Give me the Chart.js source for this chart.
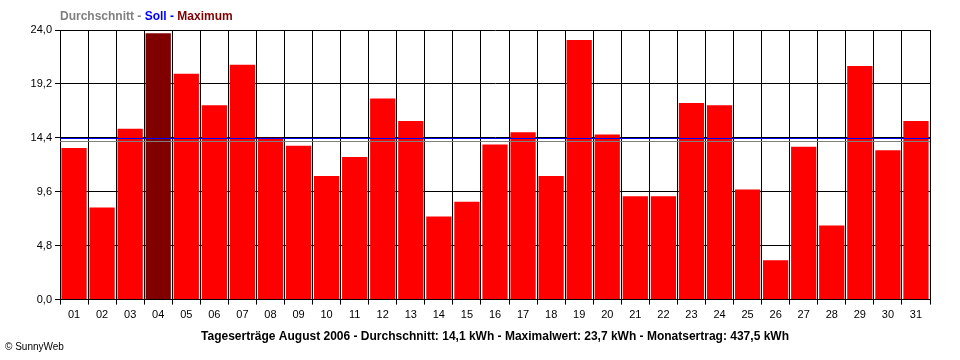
<!DOCTYPE html>
<html>
<head>
<meta charset="utf-8">
<script src="https://cdn.jsdelivr.net/npm/chart.js@4/dist/chart.umd.min.js"></script>
<style>
  html, body { margin: 0; padding: 0; background: #fff; }
  #chart { display: block; }
</style>
</head>
<body>
<canvas id="chart" width="960" height="360"></canvas>
<script>
// Tageserträge August 2006 (kWh)
const days = ['01','02','03','04','05','06','07','08','09','10','11','12','13','14','15','16',
  '17','18','19','20','21','22','23','24','25','26','27','28','29','30','31'];
const yields = [13.5, 8.2, 15.2, 23.7, 20.1, 17.3, 20.9, 14.4, 13.7, 11.0, 12.7, 17.9, 15.9, 7.4, 8.7, 13.8,
  14.9, 11.0, 23.1, 14.7, 9.2, 9.2, 17.5, 17.3, 9.8, 3.5, 13.6, 6.6, 20.8, 13.3, 15.9];
const yTicks = [0, 4.8, 9.6, 14.4, 19.2, 24.0];
const average = 14.1;
const target = 14.4; // Soll

const maxYield = Math.max(...yields);
const font = "'Liberation Sans', Arial, sans-serif";

const extraText = {
  id: 'extraText',
  afterDatasetsDraw(chart) {
    const { ctx, chartArea, scales } = chart;
    // Durchschnitt und Soll
    ctx.save();
    ctx.lineWidth = 1;
    [[target, '#0000ff'], [average, '#808080']].forEach(([v, c]) => {
      const y = Math.round(scales.y.getPixelForValue(v)) + 0.5;
      ctx.strokeStyle = c;
      ctx.beginPath();
      ctx.moveTo(chartArea.left, y);
      ctx.lineTo(chartArea.right, y);
      ctx.stroke();
    });
    ctx.restore();
  },
  afterDraw(chart) {
    const { ctx } = chart;
    ctx.save();
    ctx.font = 'bold 12px ' + font;
    ctx.textBaseline = 'middle';
    let x = 60;
    [['Durchschnitt - ', '#808080'], ['Soll - ', '#0000ff'], ['Maximum', '#800000']].forEach(([t, c]) => {
      ctx.fillStyle = c;
      ctx.fillText(t, x, 17);
      x += ctx.measureText(t).width;
    });
    ctx.font = '10px ' + font;
    ctx.fillStyle = '#000';
    ctx.fillText('© SunnyWeb', 5, 347);
    ctx.restore();
  }
};

const barColors = yields.map(v => v === maxYield ? '#800000' : '#ff0000');

new Chart(document.getElementById('chart'), {
  type: 'bar',
  data: {
    labels: days,
    datasets: [{
      data: yields,
      backgroundColor: barColors,
      borderColor: barColors,
      borderWidth: 0,
      barPercentage: 0.9,
      categoryPercentage: 1.0
    }]
  },
  options: {
    responsive: false,
    animation: false,
    layout: { padding: { left: 0, right: 30, top: 30, bottom: 0 } },
    plugins: {
      legend: { display: false },
      tooltip: { enabled: false },
      title: {
        display: true,
        position: 'bottom',
        fullSize: false,
        text: 'Tageserträge August 2006 - Durchschnitt: 14,1 kWh - Maximalwert: 23,7 kWh - Monatsertrag: 437,5 kWh',
        color: '#000',
        font: { family: font, size: 12, weight: 'bold', lineHeight: 1.2 },
        padding: { top: 0, bottom: 16 }
      }
    },
    scales: {
      x: {
        grid: { color: '#000', lineWidth: 1, tickLength: 5, offset: true },
        border: { color: '#000', width: 1 },
        ticks: { color: '#000', font: { family: font, size: 11 }, padding: 4, maxRotation: 0, autoSkip: false },
        afterFit(scale) { scale.height = 30; }
      },
      y: {
        min: 0,
        max: 24,
        afterBuildTicks(scale) { scale.ticks = yTicks.map(v => ({ value: v })); },
        grid: { color: '#000', lineWidth: 1, tickLength: 5 },
        border: { color: '#000', width: 1 },
        ticks: {
          color: '#000',
          font: { family: font, size: 11 },
          padding: 3,
          callback: v => v.toFixed(1).replace('.', ',')
        },
        afterFit(scale) { scale.width = 60; }
      }
    }
  },
  plugins: [extraText]
});
</script>
</body>
</html>
